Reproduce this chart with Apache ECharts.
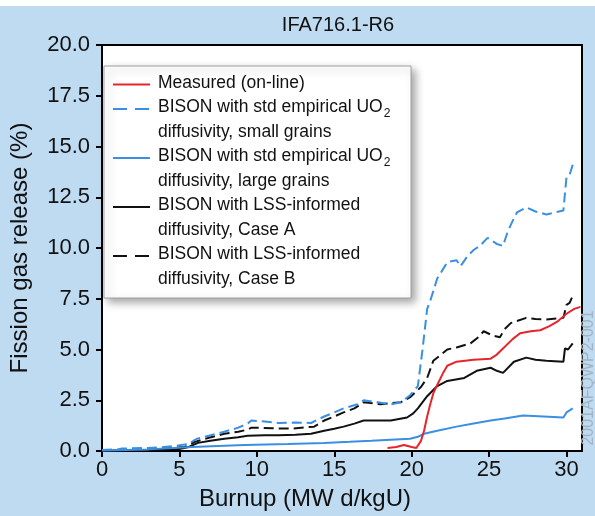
<!DOCTYPE html>
<html><head><meta charset="utf-8">
<script src="https://cdn.jsdelivr.net/npm/echarts@6/dist/echarts.min.js"></script>
<style>html,body{margin:0;padding:0;background:#fff;}#c{width:595px;height:516px;}</style>
</head><body><div id="c"></div>
<script>
const titleText = 'IFA716.1-R6';
const xName = 'Burnup (MW d/kgU)';
const yName = 'Fission gas release (%)';
const xTicks = [0, 5, 10, 15, 20, 25, 30];
const yTicks = [0, 2.5, 5, 7.5, 10, 12.5, 15, 17.5, 20];
const watermark = '2001AFQWP2-001';

const measured = [[18.44,0.15],[19.0,0.2],[19.5,0.3],[20.0,0.2],[20.3,0.15],[20.6,0.5],[20.8,1.0],[21.0,1.7],[21.2,2.3],[21.4,2.85],[21.65,3.25],[22.0,3.8],[22.3,4.2],[22.9,4.4],[24.0,4.5],[25.1,4.55],[25.5,4.75],[25.9,5.05],[26.5,5.5],[27.0,5.8],[27.7,5.9],[28.3,5.95],[28.9,6.15],[29.4,6.37],[30.0,6.76],[30.5,7.0],[30.9,7.1]];
const smallGrains = [[0,0.05],[1,0.08],[1.3,0.12],[3,0.15],[3.6,0.17],[4.7,0.25],[5.6,0.35],[6.0,0.55],[6.2,0.62],[6.9,0.75],[7.9,0.95],[8.8,1.15],[9.4,1.35],[9.65,1.5],[10.5,1.45],[11.4,1.38],[12.5,1.4],[13.5,1.38],[14.35,1.7],[15.0,1.9],[15.6,2.1],[16.5,2.3],[16.9,2.5],[17.8,2.4],[18.65,2.3],[19.3,2.4],[19.9,2.75],[20.4,3.2],[20.7,5.0],[21.0,7.0],[21.2,7.4],[21.65,8.5],[21.9,8.8],[22.3,9.3],[22.9,9.4],[23.15,9.1],[23.6,9.6],[24.0,9.9],[24.4,10.1],[24.9,10.5],[25.5,10.2],[25.9,10.1],[26.2,10.8],[26.5,11.3],[26.8,11.75],[27.4,12.0],[28.0,11.8],[28.7,11.65],[29.8,11.85],[29.9,12.7],[30.0,13.5],[30.2,13.6],[30.4,14.1]];
const largeGrains = [[0,0.02],[3,0.08],[5.8,0.2],[7.5,0.25],[9.2,0.3],[12,0.35],[14.35,0.4],[16,0.45],[17.4,0.5],[19.9,0.6],[20.4,0.7],[20.8,0.85],[21.65,1.0],[22.9,1.2],[24,1.35],[25.1,1.5],[26,1.6],[27.2,1.75],[28.5,1.7],[29.8,1.65],[30.0,1.9],[30.4,2.1]];
const caseA = [[0,0.02],[3,0.04],[5,0.1],[5.6,0.2],[6.2,0.4],[7,0.5],[7.9,0.6],[8.8,0.68],[9.4,0.75],[10.5,0.77],[11.4,0.78],[12.5,0.8],[13.5,0.85],[14.35,1.0],[15.0,1.1],[15.6,1.2],[16.3,1.35],[16.9,1.5],[17.8,1.5],[18.65,1.5],[19.7,1.65],[20.1,1.85],[20.4,2.1],[21.0,2.7],[21.65,3.2],[22.3,3.45],[23.4,3.6],[24.2,3.95],[25.1,4.1],[25.5,3.95],[25.9,3.85],[26.6,4.4],[27.4,4.6],[28.0,4.5],[28.7,4.45],[29.8,4.4],[29.9,5.05],[30.1,5.0],[30.4,5.3]];
const caseB = [[0,0.02],[2,0.05],[3.6,0.1],[5.35,0.2],[6.0,0.45],[6.9,0.65],[7.9,0.85],[8.8,0.95],[9.4,1.05],[9.65,1.15],[11,1.12],[12.2,1.1],[13.7,1.2],[14.35,1.5],[15.0,1.7],[15.6,1.9],[16.3,2.1],[16.9,2.4],[18.0,2.3],[19.3,2.4],[19.9,2.65],[20.6,3.15],[21.0,3.6],[21.4,4.45],[21.9,4.75],[22.3,5.0],[22.9,5.1],[23.8,5.3],[24.3,5.6],[24.65,5.9],[25.2,5.7],[25.7,5.6],[26.0,6.0],[26.4,6.3],[27.4,6.56],[28.0,6.5],[28.7,6.48],[29.8,6.56],[30.0,7.2],[30.2,7.3],[30.4,7.65]];

const legendLines = [
  ['Measured (on-line)'],
  ['BISON with std empirical UO{sub|2}', 'diffusivity, small grains'],
  ['BISON with std empirical UO{sub|2}', 'diffusivity, large grains'],
  ['BISON with LSS-informed', 'diffusivity, Case A'],
  ['BISON with LSS-informed', 'diffusivity, Case B']
];

const FONT = "'Liberation Sans', Arial, sans-serif";
const RED = '#e8242b', BLUE = '#3a8fe3', BLACK = '#111111';
const seriesStyles = [
  {color: RED, type: 'solid'},
  {color: BLUE, type: [10, 5]},
  {color: BLUE, type: 'solid'},
  {color: BLACK, type: 'solid'},
  {color: BLACK, type: [10, 5]}
];
const seriesData = [measured, smallGrains, largeGrains, caseA, caseB];

const chart = echarts.init(document.getElementById('c'), null, {renderer: 'canvas'});

// legend graphic
const lg = {x: 104, y: 66, w: 307, h: 232};
const lineH = 24.5;
const legendChildren = [{
  type: 'rect', shape: {x: lg.x, y: lg.y, width: lg.w, height: lg.h},
  style: {fill: '#fff', stroke: '#a0a0a0', lineWidth: 1, shadowBlur: 8, shadowOffsetX: 4, shadowOffsetY: 4, shadowColor: 'rgba(0,0,0,0.35)'}
}];
let row = 0;
legendLines.forEach((lines, i) => {
  const cy = lg.y + 17 + row * lineH;
  legendChildren.push({
    type: 'line', shape: {x1: 113, y1: cy + 1.5, x2: 150, y2: cy + 1.5},
    style: {stroke: seriesStyles[i].color, lineWidth: 2, lineDash: seriesStyles[i].type === 'solid' ? null : [14, 8]}
  });
  legendChildren.push({
    type: 'text', x: 158, y: cy - lineH / 2,
    style: {
      text: lines.map(l => '{a|' + l.replace('{sub|2}', '}{sub|2}{a|') + '}').join('\n'),
      rich: {
        a: {fontSize: 17.5, fontFamily: FONT, fill: '#111', lineHeight: lineH, height: lineH, verticalAlign: 'middle'},
        sub: {fontSize: 12, fontFamily: FONT, fill: '#111', lineHeight: lineH, height: lineH, padding: [12, 0, 0, 1], verticalAlign: 'middle'}
      }
    }
  });
  row += lines.length;
});

chart.setOption({
  backgroundColor: '#bfdbf2',
  animation: false,
  title: {
    text: titleText, left: 333, top: 10, textAlign: 'center',
    textStyle: {fontSize: 20, fontWeight: 'normal', fontFamily: FONT, color: '#111'}
  },
  grid: {left: 100, top: 45, width: 482, height: 408, show: true, backgroundColor: '#fff', borderColor: '#000', borderWidth: 2},
  xAxis: {
    type: 'value', min: 0, max: 31, interval: 5,
    name: xName, nameLocation: 'middle', nameGap: 36,
    nameTextStyle: {fontSize: 24, fontFamily: FONT, color: '#111', padding: [0, 74, 0, 0]},
    axisLine: {show: true, onZero: false, lineStyle: {color: '#000', width: 2}},
    axisTick: {show: true, length: 6, lineStyle: {color: '#000', width: 2}, customValues: xTicks},
    axisLabel: {fontSize: 22, fontFamily: FONT, color: '#111', margin: 8, customValues: xTicks},
    splitLine: {show: false}
  },
  yAxis: {
    type: 'value', min: 0, max: 20, interval: 2.5,
    name: yName, nameLocation: 'middle', nameGap: 70,
    nameTextStyle: {fontSize: 24, fontFamily: FONT, color: '#111'},
    axisLine: {show: true, lineStyle: {color: '#000', width: 2}},
    axisTick: {show: true, length: 6, lineStyle: {color: '#000', width: 2}, customValues: yTicks},
    axisLabel: {fontSize: 22, fontFamily: FONT, color: '#111', margin: 12, customValues: yTicks, formatter: v => v.toFixed(1)},
    splitLine: {show: false}
  },
  series: seriesData.map((d, i) => ({
    type: 'line', data: d, showSymbol: false, symbol: 'none', z: 10 - i,
    lineStyle: {color: seriesStyles[i].color, width: 2, type: seriesStyles[i].type},
    itemStyle: {color: seriesStyles[i].color}
  })),
  graphic: [
    {type: 'rect', shape: {x: 0, y: 0, width: 595, height: 6}, style: {fill: '#fff'}, z: 0},
    {type: 'group', children: legendChildren, z: 100},
    {type: 'text', x: 589, y: 378, rotation: Math.PI / 2, style: {text: watermark, fontSize: 16, fontFamily: FONT, fill: '#a3b3c1', align: 'center', verticalAlign: 'middle'}}
  ]
});
</script></body></html>
